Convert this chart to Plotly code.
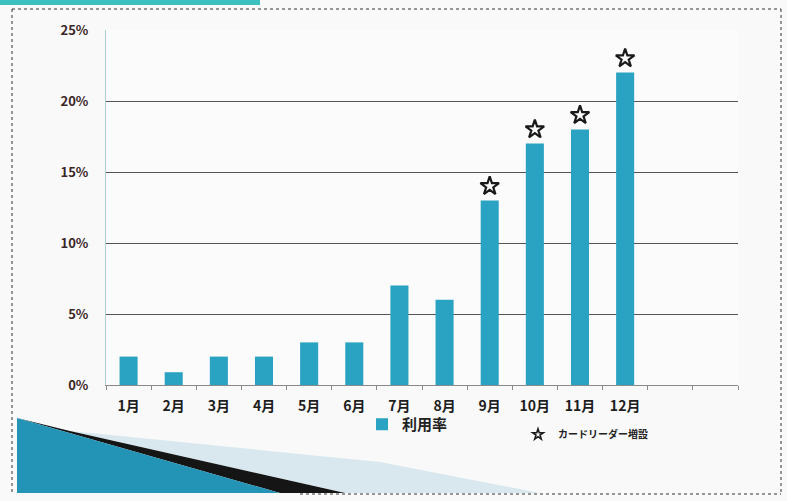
import plotly.graph_objects as go

# ---- data ----
months = ["1月", "2月", "3月", "4月", "5月", "6月", "7月", "8月", "9月", "10月", "11月", "12月"]
usage_rate = [2.0, 0.9, 2.0, 2.0, 3.0, 3.0, 7.0, 6.0, 13.0, 17.0, 18.0, 22.0]  # %
card_reader_added = [False, False, False, False, False, False, False, False, True, True, True, True]
y_ticks = [0, 5, 10, 15, 20, 25]
y_tick_labels = ["0%", "5%", "10%", "15%", "20%", "25%"]
n_slots = 14  # axis has two empty slots after December

W, H = 787, 501
L, R, T, B = 106, 49, 30, 116

def px(x):
    return (x - L) / (W - L - R)

def py(y):
    return (H - B - y) / (H - T - B)

def path(points):
    return "M " + " L ".join(f"{px(x):.4f},{py(y):.4f}" for x, y in points) + " Z"

xs = list(range(1, len(months) + 1))

fig = go.Figure()
fig.add_trace(go.Bar(
    x=xs, y=usage_rate, name="利用率", marker_color="#2aa3c2",
    marker_line_width=0, width=0.4, legend="legend", showlegend=True,
))
star_x = [x for x, f in zip(xs, card_reader_added) if f]
star_y = [v + 1.0 for v, f in zip(usage_rate, card_reader_added) if f]
fig.add_trace(go.Scatter(
    x=star_x, y=star_y, mode="markers", name="カードリーダー増設",
    marker=dict(symbol="star-open", size=14, color="#1a1a1a", line=dict(width=2.2, color="#1a1a1a")),
    legend="legend2", showlegend=False,
))
# legend entry for the star (smaller glyph, as in the original legend)
fig.add_trace(go.Scatter(
    x=[None], y=[None], mode="markers", name="カードリーダー増設",
    marker=dict(symbol="star-open", size=8, color="#1a1a1a", line=dict(width=1.6, color="#1a1a1a")),
    legend="legend2", showlegend=True,
))

shapes = [
    # bottom-left slide decoration
    dict(type="path", path=path([(70, 431), (380, 462), (540, 493), (345, 493)]),
         xref="paper", yref="paper", fillcolor="#d8e8ee", line_width=0, layer="below"),
    dict(type="path", path=path([(17, 418), (70, 431), (345, 493), (280, 493)]),
         xref="paper", yref="paper", fillcolor="#151515", line_width=0, layer="below"),
    dict(type="path", path=path([(17, 418), (280, 493), (17, 493)]),
         xref="paper", yref="paper", fillcolor="#2393b6", line_width=0, layer="below"),
    # top teal strip
    dict(type="rect", x0=px(0), x1=px(260), y0=py(0), y1=py(5), xref="paper", yref="paper",
         fillcolor="#3cc0c0", line_width=0, layer="below"),
    # dashed slide border
    dict(type="line", x0=px(12), x1=px(12), y0=py(9), y1=py(494), xref="paper", yref="paper",
         line=dict(color="#333", width=1, dash="dot")),
    dict(type="line", x0=px(12), x1=px(781), y0=py(9), y1=py(9), xref="paper", yref="paper",
         line=dict(color="#333", width=1, dash="dot")),
    dict(type="line", x0=px(781), x1=px(781), y0=py(9), y1=py(494), xref="paper", yref="paper",
         line=dict(color="#333", width=1, dash="dot")),
    dict(type="line", x0=px(300), x1=px(781), y0=py(494), y1=py(494), xref="paper", yref="paper",
         line=dict(color="#333", width=1, dash="dot")),
]

jp = "Noto Sans CJK JP, sans-serif"
fig.update_layout(
    width=W, height=H,
    margin=dict(l=L, r=R, t=T, b=B),
    paper_bgcolor="#f9f9f9", plot_bgcolor="#fbfbfb",
    font=dict(family=jp, color="#222"),
    shapes=shapes,
    showlegend=True,
    legend=dict(x=px(362), y=py(408), xanchor="left", yanchor="top", bgcolor="rgba(0,0,0,0)",
                font=dict(size=15, family=jp, color="#222", weight="bold"),
                itemwidth=30, tracegroupgap=0),
    legend2=dict(x=px(518), y=py(420), xanchor="left", yanchor="top", bgcolor="rgba(0,0,0,0)",
                 font=dict(size=10, family=jp, color="#222", weight="bold"),
                 itemwidth=30),
    bargap=0.5,
)
fig.update_xaxes(
    range=[0.5, n_slots + 0.5], tickvals=xs, ticktext=months, ticks="",
    tickfont=dict(size=14, family=jp, color="#1e1e1e", weight="bold"),
    showgrid=False, zeroline=False, showline=True, linecolor="#8a8a8a", linewidth=1,
    minor=dict(tickvals=[i + 0.5 for i in range(0, n_slots + 1)], ticks="outside", ticklen=4,
               tickcolor="#8a8a8a", showgrid=False),
    ticklabelstandoff=8,
)
fig.update_yaxes(
    range=[0, 25], tickvals=y_ticks, ticktext=y_tick_labels,
    tickfont=dict(size=13, family=jp, color="#3a2626", weight="bold"),
    showgrid=True, gridcolor="#555", gridwidth=1, zeroline=False,
    showline=True, linecolor="#a9cfd3", linewidth=1, ticks="", ticklabelstandoff=14,
)

fig.write_html("out.html")
